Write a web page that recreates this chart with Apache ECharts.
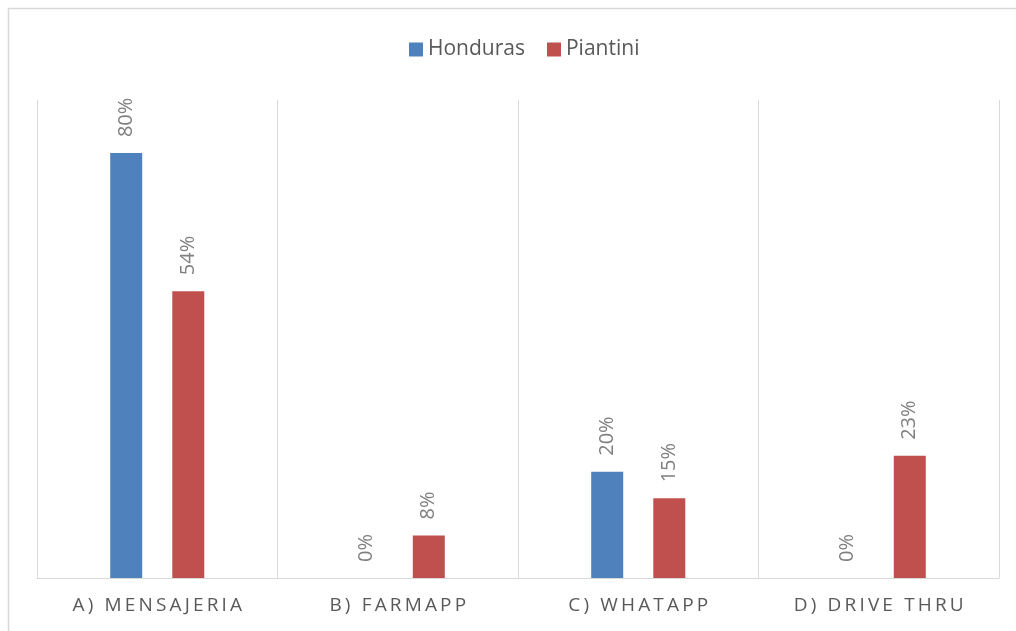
<!DOCTYPE html>
<html>
<head>
<meta charset="utf-8">
<style>
  html, body { margin: 0; padding: 0; background: #fff; }
  #chart { width: 1016px; height: 631px; }
</style>
<script src="https://cdn.jsdelivr.net/npm/echarts@6/dist/echarts.min.js"></script>
</head>
<body>
<div id="chart"></div>
<script>
// data
const categories = ['A) MENSAJERIA', 'B) FARMAPP', 'C) WHATAPP', 'D) DRIVE THRU'];
const honduras = [0.80, 0.00, 0.20, 0.00];
const piantini = [0.54, 0.08, 0.15, 0.23];

const FONT = '"Open Sans", "DejaVu Sans", sans-serif';

const chart = echarts.init(document.getElementById('chart'));

const dataLabel = {
  show: true,
  position: 'top',
  rotate: 90,
  align: 'left',
  verticalAlign: 'middle',
  distance: 16,
  color: '#808080',
  fontSize: 20,
  fontFamily: FONT,
  formatter: p => Math.round(p.value * 100) + '%'
};

chart.setOption({
  animation: false,
  graphic: [{
    type: 'rect',
    shape: { x: 8.5, y: 8.5, width: 1100, height: 700 },
    style: { fill: 'none', stroke: '#d9d9d9', lineWidth: 1.5 },
    silent: true
  }],
  legend: {
    top: 34,
    left: 404,
    icon: 'rect',
    itemWidth: 14,
    itemHeight: 14,
    itemGap: 22,
    textStyle: { color: '#595959', fontSize: 21, fontFamily: FONT },
    data: ['Honduras', 'Piantini']
  },
  grid: {
    left: 37,
    right: 17,
    top: 100,
    bottom: 53
  },
  xAxis: {
    type: 'category',
    data: categories,
    axisTick: { show: false },
    axisLine: { lineStyle: { color: '#d9d9d9', width: 1 } },
    splitLine: { show: true, lineStyle: { color: '#d9d9d9', width: 1 } },
    axisLabel: {
      color: '#595959',
      fontSize: 19,
      fontFamily: FONT,
      margin: 18,
      interval: 0,
      // spread letters like the original
      formatter: s => s.split('').join('\u2009')
    }
  },
  yAxis: {
    type: 'value',
    min: 0,
    max: 0.9,
    show: false
  },
  series: [{
    name: 'Honduras',
    type: 'bar',
    data: honduras,
    barWidth: 32,
    barGap: '94%',
    itemStyle: { color: '#4f81bd' },
    label: dataLabel
  }, {
    name: 'Piantini',
    type: 'bar',
    data: piantini,
    barWidth: 32,
    itemStyle: { color: '#c0504d' },
    label: dataLabel
  }]
});
</script>
</body>
</html>
